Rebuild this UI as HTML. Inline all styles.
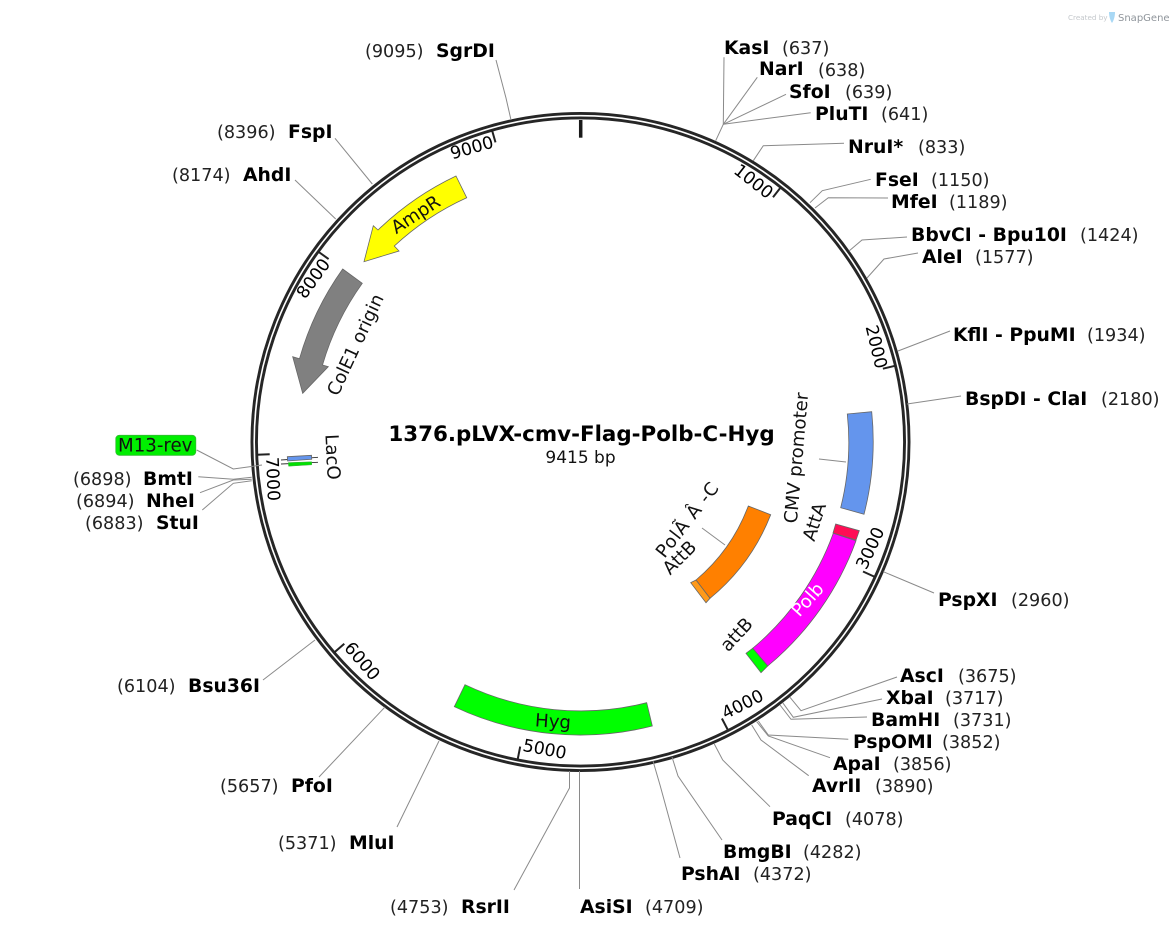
<!DOCTYPE html>
<html><head><meta charset="utf-8"><style>
html,body{margin:0;padding:0;background:#fff}
svg{display:block}
text{font-family:"DejaVu Sans",sans-serif;font-size:18.2px;fill:#111}
.n{font-weight:bold;font-size:18.8px;fill:#000}
.p{fill:#222;font-size:17.6px}
.k{font-size:17.3px;fill:#000}
.l{fill:none;stroke:#8a8a8a;stroke-width:1}
.f{stroke:#666;stroke-width:.8}
.t{stroke:#222;stroke-width:2}
.c{text-anchor:middle;dominant-baseline:central}
</style></head><body>
<svg width="1175" height="937" viewBox="0 0 1175 937" xmlns="http://www.w3.org/2000/svg">
<rect width="1175" height="937" fill="#fff"/>
<!-- watermark -->
<text x="1068" y="20" style="font-size:7.2px;fill:#c4c8cc">Created by</text>
<path d="M1109 12h6c0 4-1 8-3 11-2-3-3-7-3-11z" fill="#a8d8f5"/>
<text x="1118" y="21" style="font-size:10px;fill:#8f959b">SnapGene</text>
<!-- ring -->
<circle cx="580.5" cy="442" r="326.3" fill="none" stroke="#262626" stroke-width="7.4"/>
<circle cx="580.5" cy="442" r="326.3" fill="none" stroke="#fff" stroke-width="1.6"/>
<line x1="580.7" y1="120" x2="580.7" y2="137.7" stroke="#1a1a1a" stroke-width="3.5"/>
<!-- ticks -->
<g class="t">
<line x1="781" y1="187" x2="773" y2="197.2"/>
<line x1="895.5" y1="365.7" x2="882.9" y2="368.7"/>
<line x1="874.8" y1="576.9" x2="863" y2="571.5"/>
<line x1="727.9" y1="730" x2="721.9" y2="718.5"/>
<line x1="517.7" y1="759.3" x2="520.2" y2="746.6"/>
<line x1="334.5" y1="652.3" x2="344.3" y2="643.8"/>
<line x1="256.8" y1="454.7" x2="269.7" y2="454.2"/>
<line x1="318.1" y1="251.5" x2="328.6" y2="259.1"/>
<line x1="491.9" y1="129.8" x2="495.5" y2="142.4"/>
</g>
<g>
<text class="c k" transform="translate(753,182) rotate(38)">1000</text>
<text class="c k" transform="translate(875.5,347) rotate(76.5)">2000</text>
<text class="c k" transform="translate(871,548.5) rotate(-65)">3000</text>
<text class="c k" transform="translate(743,705) rotate(-27)">4000</text>
<text class="c k" transform="translate(544.5,750) rotate(11)">5000</text>
<text class="c k" transform="translate(361.5,661.7) rotate(49.4)">6000</text>
<text class="c k" transform="translate(272,479) rotate(87.7)">7000</text>
<text class="c k" transform="translate(314,279) rotate(-54)">8000</text>
<text class="c k" transform="translate(472,148.5) rotate(-16)">9000</text>
</g>
<!-- features -->
<path class="f" fill="#ffff00" d="M456,176 L466.7,197.7 A269,269 0 0 0 394.3,246 L399,251 L364,261.7 L373.3,225.7 L378,230 A293,293 0 0 1 456,176 Z"/>
<path class="f" fill="#808080" d="M342.7,269 L362.3,283.3 A269,269 0 0 0 322.5,365 L328.3,366.7 L302.7,393.3 L292.7,356.7 L299.5,358.7 A293,293 0 0 1 342.7,269 Z"/>
<path class="f" fill="#6495ed" d="M847.3,414 L871.7,411.7 A293,293 0 0 1 864,514.3 L840.7,507.7 A268,268 0 0 0 847.3,414 Z"/>
<path class="f" fill="#ff0d55" d="M835.7,524 L859.3,530.7 L856,540 L833,533 Z"/>
<path class="f" fill="#ff00ff" d="M833.3,533.3 L856,540.7 A293,293 0 0 1 767.7,666 L752.7,648.3 A269,269 0 0 0 833.3,533.3 Z"/>
<path class="f" fill="#00ff00" d="M752.7,648.3 L767.7,666 L761,672.7 L746,653.3 Z"/>
<path class="f" fill="#ff8000" d="M748.3,506 L770.7,514.7 A204,204 0 0 1 710,598.3 L696,580 A180,180 0 0 0 748.3,506 Z"/>
<path class="f" fill="#ff9a1a" d="M696,580 L710,598.3 L706,602.7 L690.7,582.7 Z"/>
<path class="f" fill="#00ff00" d="M465,684.7 L454.3,706.7 A293.5,293.5 0 0 0 652.3,726 L646.7,702.7 A269,269 0 0 1 465,684.7 Z"/>
<!-- LacO -->
<line x1="281" y1="460" x2="318" y2="457.3" stroke="#333" stroke-width=".9"/>
<line x1="281" y1="464" x2="318" y2="462.3" stroke="#333" stroke-width=".9"/>
<path class="f" fill="#6495ed" d="M287.3,456.7 L311.5,455.3 L311.7,459.3 L287.6,461 Z"/>
<path fill="#00e000" stroke="#4a4" stroke-width=".5" d="M288.3,462.6 L311.7,461.8 L311.7,464.8 L288.6,466.2 Z"/>
<!-- feature labels -->
<text class="c" transform="translate(416,215) rotate(-33)">AmpR</text>
<text class="c" transform="translate(356,345) rotate(-65)">ColE1 origin</text>
<text class="c" transform="translate(332,457) rotate(87)">LacO</text>
<text class="c" transform="translate(797,458) rotate(-85)">CMV promoter</text>
<text class="c" transform="translate(815,522) rotate(-72)">AttA</text>
<text class="c" transform="translate(808,600) rotate(-48)" style="fill:#fff">Polb</text>
<text class="c" transform="translate(737,635) rotate(-47)">attB</text>
<text class="c" transform="translate(688,520) rotate(-52)" style="letter-spacing:.9px">PolÃ Â -C</text>
<text class="c" transform="translate(680,558) rotate(-45)">AttB</text>
<text class="c" transform="translate(553,722) rotate(4)">Hyg</text>
<!-- leaders -->
<g class="l">
<polyline points="496,60 506,98 511,120"/>
<polyline points="724,57.3 723.3,124.3 715.7,140.7"/>
<polyline points="757.3,77.3 723.3,124.3"/>
<polyline points="786,94.3 723.3,124.3"/>
<polyline points="810.7,112.7 723.3,124.3"/>
<polyline points="844,143.3 763.3,145.7 753.3,160.7"/>
<polyline points="870.7,179.3 822.3,190.7 810,202.7"/>
<polyline points="888,198 828.3,197.7 815,208"/>
<polyline points="907,237 862,240 849,251"/>
<polyline points="918,253 884,259 867,278"/>
<polyline points="950,331 898,351"/>
<polyline points="961,396 907,404"/>
<polyline points="934,593 883.3,571.7"/>
<polyline points="897,677 801,710.7 790,697.3"/>
<polyline points="882,699 793.3,717.3 782.7,702.7"/>
<polyline points="867,717 791,719.3 780,705"/>
<polyline points="848.3,739.3 768.3,735 758.3,721"/>
<polyline points="830,757.7 768.3,736 756.7,721.7"/>
<polyline points="808.7,775.7 761,740 751.7,725"/>
<polyline points="770,806.7 722.7,760 714.3,744"/>
<polyline points="722,840 678,776 672,757"/>
<polyline points="680,858 660,785 653,761"/>
<polyline points="579.5,771 579.5,889"/>
<polyline points="569.5,771 569.5,788 514,890"/>
<polyline points="439,741 397,827"/>
<polyline points="385,707 319,777"/>
<polyline points="315,640 263,680"/>
<polyline points="295,180 335.7,219"/>
<polyline points="335,138.3 372.3,184"/>
<polyline points="196.7,450 233.3,469 262,465"/>
<polyline points="198.3,476.7 233.3,479.3 251.7,477.3"/>
<polyline points="200,492.7 233.3,480 251.7,479.3"/>
<polyline points="202.3,510 233.3,483.3 251.7,480.7"/>
<polyline points="702,528 725,545"/>
<polyline points="819,459 846,462"/>
</g>
<!-- M13 -->
<rect x="115.8" y="435.3" width="80" height="20" rx="3.5" fill="#00ee00" stroke="#33bb33" stroke-width=".8"/>
<text x="118" y="451.5">M13-rev</text>
<!-- title -->
<text x="581.5" y="441" text-anchor="middle" style="font-weight:bold;font-size:21.4px;fill:#000">1376.pLVX-cmv-Flag-Polb-C-Hyg</text>
<text x="580.5" y="463" text-anchor="middle" style="font-size:17px;fill:#111">9415 bp</text>
<!-- site labels -->
<text class="n" x="724" y="54">KasI</text><text class="p" x="782" y="54">(637)</text>
<text class="n" x="759" y="75">NarI</text><text class="p" x="818" y="76">(638)</text>
<text class="n" x="789" y="98">SfoI</text><text class="p" x="845" y="98">(639)</text>
<text class="n" x="815" y="120">PluTI</text><text class="p" x="881" y="120">(641)</text>
<text class="n" x="848" y="153">NruI*</text><text class="p" x="918" y="153">(833)</text>
<text class="n" x="875" y="186">FseI</text><text class="p" x="931" y="186">(1150)</text>
<text class="n" x="891" y="208">MfeI</text><text class="p" x="949" y="208">(1189)</text>
<text class="n" x="911" y="241">BbvCI - Bpu10I</text><text class="p" x="1080" y="241">(1424)</text>
<text class="n" x="922" y="263">AleI</text><text class="p" x="975" y="263">(1577)</text>
<text class="n" x="953" y="341">KflI - PpuMI</text><text class="p" x="1087" y="341">(1934)</text>
<text class="n" x="965" y="405">BspDI - ClaI</text><text class="p" x="1101" y="405">(2180)</text>
<text class="n" x="938" y="606">PspXI</text><text class="p" x="1011" y="606">(2960)</text>
<text class="n" x="900" y="682">AscI</text><text class="p" x="958" y="682">(3675)</text>
<text class="n" x="886" y="704">XbaI</text><text class="p" x="945" y="704">(3717)</text>
<text class="n" x="871" y="726">BamHI</text><text class="p" x="953" y="726">(3731)</text>
<text class="n" x="853" y="748">PspOMI</text><text class="p" x="942" y="748">(3852)</text>
<text class="n" x="833" y="770">ApaI</text><text class="p" x="893" y="770">(3856)</text>
<text class="n" x="812" y="792">AvrII</text><text class="p" x="875" y="792">(3890)</text>
<text class="n" x="772" y="825">PaqCI</text><text class="p" x="845" y="825">(4078)</text>
<text class="n" x="723" y="858">BmgBI</text><text class="p" x="803" y="858">(4282)</text>
<text class="n" x="681" y="880">PshAI</text><text class="p" x="753" y="880">(4372)</text>
<text class="n" x="580" y="913">AsiSI</text><text class="p" x="645" y="913">(4709)</text>
<text class="p" x="390" y="913">(4753)</text><text class="n" x="461" y="913">RsrII</text>
<text class="p" x="278" y="849">(5371)</text><text class="n" x="349" y="849">MluI</text>
<text class="p" x="220" y="792">(5657)</text><text class="n" x="291" y="792">PfoI</text>
<text class="p" x="117" y="692">(6104)</text><text class="n" x="188" y="692">Bsu36I</text>
<text class="p" x="85" y="529">(6883)</text><text class="n" x="156" y="529">StuI</text>
<text class="p" x="76" y="507">(6894)</text><text class="n" x="146" y="507">NheI</text>
<text class="p" x="73" y="485">(6898)</text><text class="n" x="143" y="485">BmtI</text>
<text class="p" x="172" y="181">(8174)</text><text class="n" x="243" y="181">AhdI</text>
<text class="p" x="217" y="138">(8396)</text><text class="n" x="288" y="138">FspI</text>
<text class="p" x="365" y="57">(9095)</text><text class="n" x="436" y="57">SgrDI</text>
</svg>
</body></html>
